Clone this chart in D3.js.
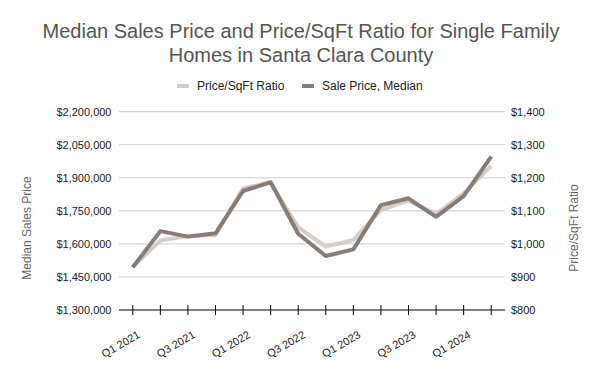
<!DOCTYPE html>
<html>
<head>
<meta charset="utf-8">
<script src="https://cdn.jsdelivr.net/npm/d3@7"></script>
<style>
  body { margin: 0; background: #fff; }
  text { font-family: "Liberation Sans", Arial, sans-serif; }
</style>
</head>
<body>
<svg id="chart" width="600" height="371"></svg>
<script>
const quarters = ["Q1 2021", "Q2 2021", "Q3 2021", "Q4 2021", "Q1 2022", "Q2 2022", "Q3 2022",
                  "Q4 2022", "Q1 2023", "Q2 2023", "Q3 2023", "Q4 2023", "Q1 2024", "Q2 2024"];
const salePrice = [1494000, 1658000, 1633000, 1648000, 1840000, 1880000, 1646000,
                   1545000, 1575000, 1776000, 1807000, 1723000, 1817000, 1996000];
const pricePerSqft = [931, 1010, 1024, 1027, 1168, 1186, 1050,
                      992, 1012, 1103, 1131, 1090, 1153, 1236];
const leftTicks = [1300000, 1450000, 1600000, 1750000, 1900000, 2050000, 2200000];
const rightTicks = [800, 900, 1000, 1100, 1200, 1300, 1400];

const darkColor = "#867d76";
const lightColor = "#d4cdc8";

const svg = d3.select("#chart");
const plotLeft = 119, plotRight = 505, plotTop = 111.7, plotBottom = 310;

const x = d3.scalePoint().domain(quarters).range([plotLeft, plotRight]).padding(0.5);
const yL = d3.scaleLinear().domain([1300000, 2200000]).range([plotBottom, plotTop]);
const yR = d3.scaleLinear().domain([800, 1400]).range([plotBottom, plotTop]);

// title
svg.append("text")
    .attr("x", 301).attr("y", 38)
    .attr("text-anchor", "middle")
    .attr("font-size", 20).attr("fill", "#555")
    .text("Median Sales Price and Price/SqFt Ratio for Single Family");
svg.append("text")
    .attr("x", 301).attr("y", 62)
    .attr("text-anchor", "middle")
    .attr("font-size", 20).attr("fill", "#555")
    .text("Homes in Santa Clara County");

// legend
const legend = [
    {name: "Price/SqFt Ratio", color: lightColor, x: 177},
    {name: "Sale Price, Median", color: darkColor, x: 302}
];
const lg = svg.selectAll(".legend").data(legend).join("g")
    .attr("transform", d => `translate(${d.x},86)`);
lg.append("rect").attr("x", 0).attr("y", -2).attr("width", 12).attr("height", 4).attr("fill", d => d.color);
lg.append("text").attr("x", 20).attr("y", 4).attr("font-size", 12).attr("fill", "#222").text(d => d.name);

// gridlines
svg.append("g").selectAll("line").data(leftTicks.slice(1)).join("line")
    .attr("x1", plotLeft).attr("x2", plotRight)
    .attr("y1", d => yL(d)).attr("y2", d => yL(d))
    .attr("stroke", "#ccc").attr("stroke-width", 1);

// left axis labels
svg.append("g").selectAll("text").data(leftTicks).join("text")
    .attr("x", 111.5).attr("y", d => yL(d) + 4)
    .attr("text-anchor", "end").attr("font-size", 11).attr("fill", "#222")
    .text(d => d3.format("$,")(d));

// right axis labels
svg.append("g").selectAll("text").data(rightTicks).join("text")
    .attr("x", 511).attr("y", d => yR(d) + 4)
    .attr("text-anchor", "start").attr("font-size", 11).attr("fill", "#222")
    .text(d => d3.format("$,")(d));

// axis titles
svg.append("text")
    .attr("transform", "translate(31,228) rotate(-90)")
    .attr("text-anchor", "middle").attr("font-size", 12).attr("fill", "#666")
    .text("Median Sales Price");
svg.append("text")
    .attr("transform", "translate(578,228) rotate(-90)")
    .attr("text-anchor", "middle").attr("font-size", 12).attr("fill", "#666")
    .text("Price/SqFt Ratio");

// bottom axis
const xAxis = svg.append("g");
xAxis.append("line")
    .attr("x1", plotLeft).attr("x2", plotRight).attr("y1", plotBottom).attr("y2", plotBottom)
    .attr("stroke", "#000");
xAxis.selectAll(".tick").data(quarters).join("line")
    .attr("class", "tick")
    .attr("x1", d => x(d)).attr("x2", d => x(d))
    .attr("y1", plotBottom - 5).attr("y2", plotBottom + 5)
    .attr("stroke", "#000");
xAxis.selectAll(".xlabel").data(quarters.filter((d, i) => i % 2 === 0)).join("text")
    .attr("class", "xlabel")
    .attr("transform", d => `translate(${x(d) + 8},337) rotate(-30)`)
    .attr("text-anchor", "end").attr("font-size", 11).attr("fill", "#222")
    .text(d => d);

// lines
const lineR = d3.line().x((d, i) => x(quarters[i])).y(d => yR(d));
const lineL = d3.line().x((d, i) => x(quarters[i])).y(d => yL(d));

svg.append("path").datum(pricePerSqft)
    .attr("d", lineR).attr("fill", "none")
    .attr("stroke", lightColor).attr("stroke-width", 4).attr("stroke-linejoin", "round");
svg.append("path").datum(salePrice)
    .attr("d", lineL).attr("fill", "none")
    .attr("stroke", darkColor).attr("stroke-width", 4).attr("stroke-linejoin", "round");
</script>
</body>
</html>
